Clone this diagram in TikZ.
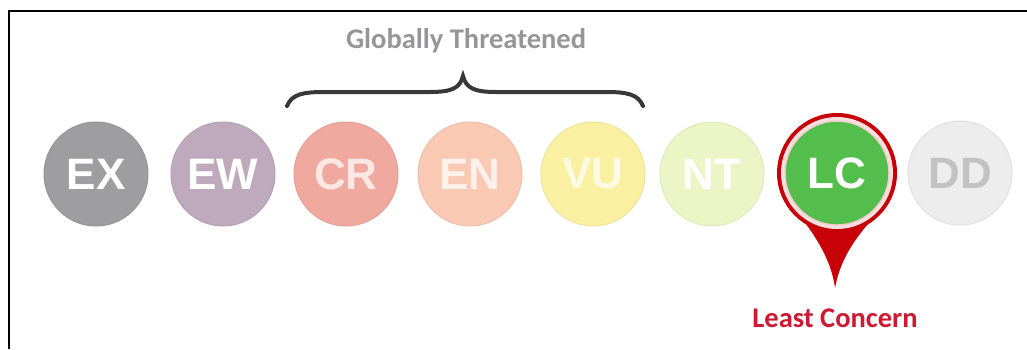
\documentclass[tikz,border=0pt]{standalone}
\usepackage{fontspec}
\setmainfont{Liberation Sans}
\newfontfamily\calib{Carlito}
\usepackage{tikz}
\usetikzlibrary{calc}
\definecolor{exG}{RGB}{158,158,161}
\definecolor{ewM}{RGB}{191,169,188}
\definecolor{crS}{RGB}{240,169,158}
\definecolor{enP}{RGB}{250,201,180}
\definecolor{vuY}{RGB}{250,240,162}
\definecolor{ntL}{RGB}{236,245,198}
\definecolor{lcG}{RGB}{84,190,76}
\definecolor{ddL}{RGB}{237,237,237}
\definecolor{pinR}{RGB}{200,0,8}
\definecolor{capR}{RGB}{205,25,50}
\definecolor{gryT}{RGB}{150,150,154}

\begin{document}
\begin{tikzpicture}[
  x=1pt, y=-1pt,
  cat/.style={circle, minimum size=104pt, inner sep=0pt, text=white, line width=1pt,
    font=\bfseries\fontsize{44}{44}\selectfont, fill=#1, draw=#1!95!black},
  head/.style={font=\calib\bfseries\fontsize{28.5}{28.5}\selectfont, inner sep=0pt}
]
\useasboundingbox (0,0) rectangle (1027,349);
% frame (top and left only)
\draw[line width=2pt] (9,349) -- (9,11) -- (1027,11);

\node[head, text=gryT] (gt) at (466,41) {Globally Threatened};
% brace over CR / EN / VU
\coordinate (brL) at (287,106);
\coordinate (brR) at (643,106);
\coordinate (brT) at (463,76);
\draw[line width=4pt, line cap=round, black!78] (brL) .. controls (292,94) and (303,92) .. (325,92)
  -- (430,92) .. controls (452,92) and (460,88) .. (brT)
  .. controls (466,88) and (474,92) .. (496,92) -- (605,92)
  .. controls (627,92) and (638,94) .. (brR);

% pin behind LC
\coordinate (tip) at (835,288);
\fill[pinR] (837,173) circle (60pt);
\fill[pinR] (806,224) .. controls (822,246) and (832,266) .. (tip)
  .. controls (839,266) and (849,246) .. (868,224) -- cycle;
\fill[white!88!pinR] (837,173) circle (56pt);

\node[cat=exG] (ex) at (96,174) {EX};
\node[cat=ewM] (ew) at (223,174) {EW};
\node[cat=crS, text=white!72!crS] (cr) at (346,174) {CR};
\node[cat=enP, text=white!72!enP] (en) at (470,174) {EN};
\node[cat=vuY, text=white!70!vuY] (vu) at (593,174) {VU};
\node[cat=ntL] (nt) at (712,174) {NT};
\node[cat=lcG, draw=white!80!pinR, line width=1.4pt] (lc) at (837,173) {LC};
\node[cat=ddL, text=black!24] (dd) at (960,173) {DD};

\node[head, text=capR] (lcname) at (835,318) {Least Concern};
\end{tikzpicture}
\end{document}
